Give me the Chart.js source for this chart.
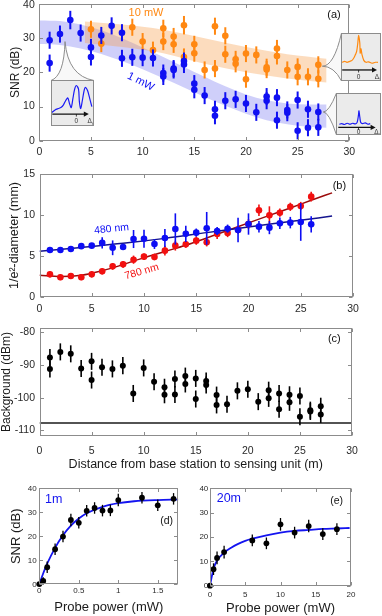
<!DOCTYPE html>
<html><head><meta charset="utf-8">
<script src="https://cdn.jsdelivr.net/npm/chart.js@4.4.1/dist/chart.umd.min.js"></script>
<style>
body{margin:0;background:#fff;}
#wrap{position:relative;width:382px;height:616px;overflow:hidden;background:#fff;}
canvas{position:absolute;}
</style></head><body>
<div id="wrap">
<canvas id="cA" width="382" height="185" style="left:0;top:-20px"></canvas>
<canvas id="cB" width="382" height="150" style="left:0;top:165px"></canvas>
<canvas id="cC" width="382" height="160" style="left:0;top:315px"></canvas>
<canvas id="cD" width="190" height="141" style="left:0;top:475px"></canvas>
<canvas id="cE" width="197" height="141" style="left:185px;top:475px"></canvas>
<canvas id="iL" width="10" height="10" style="left:0;top:0"></canvas>
<canvas id="iTR" width="10" height="10" style="left:0;top:0"></canvas>
<canvas id="iBR" width="10" height="10" style="left:0;top:0"></canvas>
</div>
<script>
// ---------------- data ----------------
// (a) SNR vs distance
const aTicksX = [0,5,10,15,20,25,30];
const aTicksY = [0,10,20,30,40];
const aBlueX = [1,1,2,3,4,5,5,6,7,8,8,9,10,11,12,12,13,13,14,14,15,15,16,17,17,18,19,20,21,22,22,23,23,24,24,25,25,26,26,27,27];
const aBlueY = [29.4,22.7,31.2,35.3,31.5,27.3,24.5,30.8,33.6,31.6,24.1,24.4,24.3,24.2,19.8,18.8,21.1,20.7,22.3,23.3,16.7,14.9,13.2,9.2,7.3,11.7,12.1,10.9,8.3,12.9,11.7,12.6,6.0,9.0,8.2,11.9,2.9,9.2,3.8,8.4,3.9];
const aBlueE = [2.5,2.5,2.5,2.7,2.5,2.5,2.5,2.5,2.5,2.5,2.5,2.5,2.5,2.5,2.5,2.5,2.5,2.5,2.5,2.5,2.5,2.5,2.5,2.5,2.5,2.5,2.5,2.5,2.5,2.5,2.5,2.5,2.5,2.5,2.5,2.5,2.5,2.5,2.5,2.5,2.5];
const aOrX = [5,6,9,10,11,12,12,13,13,14,14,15,15,16,17,17,18,18,19,19,20,20,21,22,22,23,23,24,25,25,26,27,27];
const aOrY = [32.6,28.4,33.2,29.0,26.5,32.9,29.0,30.5,28.2,33.8,24.5,28.2,25.6,20.7,33.5,21.1,30.7,25.3,23.8,22.5,25.5,18.0,25.1,21.5,20.8,27.0,24.8,20.7,21.6,18.7,18.7,22.2,18.1];
const aOrE = [2.5,2.5,2.5,2.5,2.5,2.5,2.5,2.5,2.5,2.7,2.5,2.5,2.5,2.5,2.5,2.5,2.5,2.5,2.5,2.5,2.5,2.5,2.5,2.5,2.5,2.5,2.5,2.5,2.5,2.5,2.5,2.5,2.5];
const bandBlueX  = [0,2,4,6,8,10,12,14,16,18,20,22,24,26,27.8];
const bandBlueHi = [35.2,35.0,34.0,32.3,30.0,27.3,24.5,21.6,18.7,15.9,13.5,11.8,10.9,10.6,10.6];
const bandBlueLo = [28.3,28.0,27.0,25.4,23.3,20.9,18.3,15.6,12.8,10.2,7.9,6.0,4.8,4.1,3.8];
const bandOrX  = [4.4,8,12,16,20,24,27.8];
const bandOrHi = [34.9,34.0,32.5,30.0,27.4,25.3,24.0];
const bandOrLo = [28.6,27.4,25.6,22.5,20.0,18.2,17.0];
// insets of (a): spectra in normalised inset units
const insLX = [0.016,0.094,0.17,0.23,0.29,0.34,0.39,0.43,0.47,0.51,0.55,0.59,0.64,0.66,0.69,0.73,0.77,0.80,0.85,0.90,0.95];
const insLY = [0.29,0.35,0.38,0.40,0.46,0.55,0.61,0.49,0.40,0.60,0.80,0.88,0.80,0.53,0.38,0.56,0.77,0.84,0.77,0.60,0.42];
const insTX = [0.025,0.09,0.15,0.22,0.275,0.32,0.36,0.39,0.42,0.44,0.47,0.48,0.50,0.525,0.57,0.625,0.69,0.775,0.86,0.925];
const insTY = [0.39,0.41,0.39,0.41,0.43,0.48,0.55,0.61,0.79,0.95,0.79,0.58,0.67,0.55,0.43,0.39,0.40,0.37,0.39,0.39];
const insBX = [0.074,0.13,0.19,0.25,0.31,0.37,0.43,0.47,0.50,0.51,0.53,0.55,0.59,0.65,0.71,0.76];
const insBY = [0.256,0.27,0.25,0.28,0.256,0.28,0.264,0.30,0.48,0.576,0.42,0.296,0.27,0.29,0.256,0.27];

// (b) beam diameter
const bTicksX = [0,5,10,15,20,25,30];
const bTicksY = [0,5,10,15];
const bX = [1,2,3,4,5,6,7,8,9,10,11,12,13,14,15,16,17,18,19,20,21,22,23,24,25,26];
const bBlueY = [5.73,5.73,5.85,6.2,6.26,6.6,6.0,6.1,7.07,7.1,6.46,7.2,8.3,7.7,7.85,8.37,8.05,8.33,8.17,8.9,8.58,8.46,8.98,9.07,9.15,8.86];
const bBlueE = [0.3,0.3,0.3,0.3,0.3,0.7,0.9,0.3,1.1,1.1,0.6,1.1,1.9,1.0,0.5,2.0,0.5,0.5,1.5,1.3,0.7,0.8,0.7,0.7,2.3,1.0];
const bRedY = [2.76,2.4,2.56,2.4,2.76,3.13,3.74,3.98,4.55,4.92,4.88,5.65,6.26,6.42,6.87,6.67,7.68,7.8,8.2,8.9,10.57,9.96,10.28,11.0,11.1,12.24];
const bRedE = [0.35,0.35,0.35,0.35,0.35,0.35,0.4,0.4,0.5,0.4,0.4,0.6,0.6,0.4,0.5,0.5,0.6,0.5,0.5,0.6,0.7,1.1,0.5,0.5,0.5,0.6];
const bBlueFitX = [0,4,8,12,16,20,24,28];
const bBlueFitY = [5.57,6.05,6.55,7.15,7.85,8.55,9.2,9.87];
const bRedFitX = [0,2,4,6,8,10,12,14,16,18,20,22,24,26,28];
const bRedFitY = [2.64,2.5,2.65,3.2,3.95,4.8,5.55,6.31,7.2,8.1,9.04,9.95,10.85,11.8,12.7];

// (c) background
const cTicksX = [0,5,10,15,20,25,30];
const cTicksY = [-110,-100,-90,-80];
const cX = [1,1,2,3,4,5,5,6,7,8,9,10,11,12,12,13,13,14,14,15,15,16,16,17,17,18,19,20,21,22,22,23,23,24,24,25,25,26,26,27,27];
const cY = [-87.7,-91.2,-86.0,-86.6,-91.1,-88.9,-94.6,-90.7,-91.2,-90.2,-98.7,-90.9,-95.1,-96.8,-99.1,-94.3,-99.0,-93.4,-95.8,-94.1,-100.4,-94.9,-96.1,-99.2,-102.2,-102.0,-97.9,-97.4,-101.2,-97.7,-100.2,-98.7,-103.5,-99.1,-101.4,-99.5,-105.8,-103.8,-104.2,-102.6,-105.1];
const cE = [2.6,2.6,2.6,2.6,2.6,2.6,2.6,2.6,2.6,2.6,2.6,2.6,2.6,2.6,2.6,2.6,2.6,2.6,2.6,2.6,2.6,2.6,2.6,2.6,2.6,2.6,2.6,2.6,2.6,2.6,2.6,2.6,2.6,2.6,2.6,2.6,2.6,2.6,2.6,2.6,2.6];
const cFloorX = [0,30];
const cFloorY = [-107.7,-107.7];

// (d) SNR vs probe power at 1 m
const dTicksX = [0,0.5,1,1.5];
const dTicksY = [0,10,20,30,40];
const dX = [0,0.05,0.1,0.2,0.3,0.4,0.5,0.6,0.7,0.8,0.9,1.0,1.3,1.5,1.7];
const dY = [0.1,1.4,7.1,14.6,19.9,26.8,25.6,30.6,31.8,30.7,30.8,35.1,36.1,32.9,35.6];
const dE = [0.6,1.5,2.4,2.4,2.4,2.6,2.4,2.4,2.4,2.4,2.4,2.6,2.4,2.4,2.4];
const dFitX = [0,0.05,0.1,0.2,0.3,0.4,0.5,0.6,0.8,1.0,1.2,1.5,1.76];
const dFitY = [0,4.6,8.6,15.2,20.4,24.4,27.4,29.6,32.3,33.8,34.6,35.1,35.3];

// (e) SNR vs probe power at 20 m
const eTicksX = [0,5,10,15,20];
const eTicksY = [0,10,20,30,40];
const eX = [0,0.5,1,2,6,8,10,12,14,16,18];
const eY = [0,6.8,11.4,13.8,18.6,17.4,25.2,21.8,24.5,21.2,23.2];
const eE = [0.6,2.4,2.6,2.6,2.4,2.4,2.6,2.4,2.6,2.4,2.4];
const eFitX = [0,0.5,1,2,3,4,5,6,8,10,12,14,16,18,19.8];
const eFitY = [0,7,10.3,13.6,15.6,17.2,18.4,19.3,20.7,21.8,22.5,22.9,23.3,23.5,23.7];

// ---------------- helpers ----------------
const FONT = '"Liberation Sans", Arial, Helvetica, sans-serif';
Chart.defaults.font.family = FONT;
Chart.defaults.color = '#2a2a2a';
Chart.defaults.animation = false;
Chart.defaults.responsive = false;
Chart.defaults.devicePixelRatio = 1;
Chart.defaults.plugins.legend.display = false;
Chart.defaults.plugins.tooltip.enabled = false;

const pts = (xs, ys) => xs.map((x, i) => ({x: x, y: ys[i]}));

const errorBars = {
  id: 'errorBars',
  beforeDatasetDraw(chart, args) {
    const ds = chart.data.datasets[args.index];
    if (!ds.errs) return;
    const sx = chart.scales.x, sy = chart.scales.y, ctx = chart.ctx;
    ctx.save();
    ctx.strokeStyle = ds.errColor;
    ctx.lineWidth = ds.errWidth || 1.5;
    ds.data.forEach((p, i) => {
      const e = ds.errs[i];
      const px = sx.getPixelForValue(p.x);
      ctx.beginPath();
      ctx.moveTo(px, sy.getPixelForValue(p.y - e));
      ctx.lineTo(px, sy.getPixelForValue(p.y + e));
      ctx.stroke();
    });
    ctx.restore();
  }
};

const frame = {
  id: 'frame',
  afterDatasetsDraw(chart) {
    const ctx = chart.ctx, a = chart.chartArea, sx = chart.scales.x, sy = chart.scales.y;
    ctx.save();
    ctx.strokeStyle = '#8c8c8c';
    ctx.lineWidth = 1;
    const l = Math.round(a.left) + 0.5, t = Math.round(a.top) + 0.5;
    const r = Math.round(a.right) - 0.5, b = Math.round(a.bottom) - 0.5;
    ctx.strokeRect(l, t, r - l, b - t);
    const L = 3.5;
    ctx.beginPath();
    sx.ticks.forEach(tk => {
      const p = Math.round(sx.getPixelForValue(tk.value)) + 0.5;
      ctx.moveTo(p, b); ctx.lineTo(p, b - L);
      ctx.moveTo(p, t); ctx.lineTo(p, t + L);
    });
    sy.ticks.forEach(tk => {
      const p = Math.round(sy.getPixelForValue(tk.value)) + 0.5;
      ctx.moveTo(l, p); ctx.lineTo(l + L, p);
      ctx.moveTo(r, p); ctx.lineTo(r - L, p);
    });
    ctx.stroke();
    ctx.restore();
  }
};

// draws the y scale's own tick labels for panel (a); the top label is kept fully inside the page
function yLabels(size, pad) {
  return {
    id: 'yLabels',
    afterDraw(chart) {
      const ctx = chart.ctx, sy = chart.scales.y, a = chart.chartArea;
      ctx.save();
      ctx.font = size + 'px ' + FONT;
      ctx.fillStyle = '#2a2a2a';
      ctx.textAlign = 'right';
      ctx.textBaseline = 'middle';
      sy.ticks.forEach(tk => {
        const y = Math.max(sy.getPixelForValue(tk.value), a.top + 1.5);
        ctx.fillText(String(tk.value), a.left - pad, y);
      });
      ctx.restore();
    }
  };
}

function notes(items) {
  return {
    id: 'notes',
    afterDraw(chart) {
      const ctx = chart.ctx, sx = chart.scales.x, sy = chart.scales.y;
      items.forEach(n => {
        ctx.save();
        ctx.translate(sx.getPixelForValue(n.x), sy.getPixelForValue(n.y));
        if (n.rot) ctx.rotate(n.rot * Math.PI / 180);
        ctx.font = (n.size || 11) + 'px ' + FONT;
        ctx.fillStyle = n.color || '#111';
        ctx.textAlign = n.align || 'center';
        ctx.textBaseline = 'middle';
        ctx.fillText(n.text, 0, 0);
        ctx.restore();
      });
    }
  };
}

function axisX(o) {
  return {
    type: 'linear', min: o.min, max: o.max,
    grid: {display: false, drawTicks: false}, border: {display: false},
    ticks: {font: {size: o.size}, padding: o.pad, color: '#2a2a2a', maxRotation: 0, autoSkip: false,
            callback: v => String(v)},
    afterBuildTicks: s => { s.ticks = o.ticks.map(v => ({value: v})); },
    afterFit: s => { s.height = o.h; s.paddingLeft = 0; s.paddingRight = 0; },
    title: o.title ? {display: true, text: o.title, font: {size: o.tsize}, color: '#1a1a1a',
                      padding: {top: 0, bottom: o.tpad}} : {display: false}
  };
}
function axisY(o) {
  return {
    type: 'linear', min: o.min, max: o.max,
    grid: {display: false, drawTicks: false}, border: {display: false},
    ticks: {display: o.hideLabels ? false : true, font: {size: o.size}, padding: o.pad, color: '#2a2a2a', autoSkip: false,
            callback: v => String(v)},
    afterBuildTicks: s => { s.ticks = o.ticks.map(v => ({value: v})); },
    afterFit: s => { s.width = o.w; s.paddingTop = 0; s.paddingBottom = 0; },
    title: o.title ? {display: true, text: o.title, font: {size: o.tsize, lineHeight: 1}, color: '#1a1a1a',
                      padding: {top: o.tpad, bottom: 0}} : {display: false}
  };
}
function dots(xs, ys, es, color, r, ew, order, clip) {
  const d = {data: pts(xs, ys), errs: es, errColor: color, errWidth: ew, showLine: false,
          pointRadius: r, pointBackgroundColor: color, pointBorderWidth: 0, pointBorderColor: color,
          order: order};
  if (clip !== undefined) d.clip = clip;
  return d;
}
function curve(xs, ys, color, w, order) {
  return {data: pts(xs, ys), showLine: true, borderColor: color, borderWidth: w, pointRadius: 0,
          cubicInterpolationMode: 'monotone', fill: false, order: order};
}
function band(xs, ys, fillColor, order, fill) {
  return {data: pts(xs, ys), showLine: true, borderColor: 'rgba(0,0,0,0)', borderWidth: 0, pointRadius: 0,
          cubicInterpolationMode: 'monotone', fill: fill, backgroundColor: fillColor, order: order};
}

// ---------------- (a) ----------------
const A_TOP = -20; // page offset of canvas A
const insetDefs = [
  {id: 'iL', box: [1.13, 5.26, 4.30, 17.76], apex: [2.49, 29.0], side: 'top',
   xs: insLX, ys: insLY, color: '#1a1af5',
   ar: {y: 0.26, x0: 0.03, x1: 0.88, zero: 0.59, ly: 0.1, dx: 0.9}},
  {id: 'iTR', box: [29.17, 33.04, 17.38, 31.52], apex: [27.39, 21.8], side: 'left',
   xs: insTX, ys: insTY, color: '#ff8a10',
   ar: {y: 0.23, x0: 0.03, x1: 0.9, zero: 0.44, ly: 0.08, dx: 0.9}},
  {id: 'iBR', box: [28.68, 33.04, 1.76, 13.96], apex: [27.48, 8.4], side: 'left',
   xs: insBX, ys: insBY, color: '#1a1af5',
   ar: {y: 0.18, x0: 0.05, x1: 0.88, zero: 0.5, ly: 0.06, dx: 0.9}}
];

const callouts = {
  id: 'callouts',
  afterDraw(c) {
    const ctx = c.ctx, sx = c.scales.x, sy = c.scales.y;
    ctx.save();
    ctx.strokeStyle = '#8c8c8c';
    ctx.lineWidth = 1;
    insetDefs.forEach(ins => {
      const L = Math.round(sx.getPixelForValue(ins.box[0])), R = Math.round(sx.getPixelForValue(ins.box[1]));
      const T = Math.round(sy.getPixelForValue(ins.box[3])), B = Math.round(sy.getPixelForValue(ins.box[2]));
      const ax = sx.getPixelForValue(ins.apex[0]), ay = sy.getPixelForValue(ins.apex[1]);
      ctx.beginPath();
      if (ins.side === 'top') {
        ctx.moveTo(L, T + 0.5);
        ctx.quadraticCurveTo(ax - 1, T - 4, ax, ay);
        ctx.quadraticCurveTo(ax + 3, T - 4, R, T + 0.5);
      } else {
        ctx.moveTo(L + 0.5, T);
        ctx.quadraticCurveTo(L - 7, ay, ax, ay);
        ctx.quadraticCurveTo(L - 7, ay, L + 0.5, B);
      }
      ctx.fillStyle = 'rgba(228,228,228,0.25)';
      ctx.fill();
      ctx.stroke();
    });
    ctx.restore();
  }
};

const chartA = new Chart(document.getElementById('cA'), {
  type: 'line',
  data: {datasets: [
    dots(aBlueX, aBlueY, aBlueE, '#1010f2', 3.3, 2, 0),
    dots(aOrX, aOrY, aOrE, '#ff8812', 3.3, 2, 1),
    band(bandOrX, bandOrHi, 'rgba(247,158,75,0.36)', 5, '+1'),
    band(bandOrX, bandOrLo, 'rgba(0,0,0,0)', 5, false),
    band(bandBlueX, bandBlueHi, 'rgba(95,95,240,0.30)', 6, '+1'),
    band(bandBlueX, bandBlueLo, 'rgba(0,0,0,0)', 6, false)
  ]},
  options: {
    layout: {padding: {left: 0, right: 32.7, top: 24, bottom: 0}},
    scales: {
      x: axisX({min: 0, max: 30, ticks: aTicksX, h: 24.3, size: 10.5, pad: 4.7}),
      y: axisY({min: 0, max: 40, ticks: aTicksY, w: 39.3, size: 10.5, pad: 4.5, hideLabels: true,
                title: 'SNR (dB)', tsize: 12, tpad: 10})
    }
  },
  plugins: [errorBars, frame, callouts, yLabels(10.5, 4.5), notes([
    {text: '(a)', x: 28.52, y: 36.78, size: 11},
    {text: '10 mW', x: 10.33, y: 37.45, size: 11, color: '#ff8812'},
    {text: '1 mW', x: 9.81, y: 17.26, size: 11, color: '#1010f2', rot: 27}
  ])]
});

function insetDeco(ar) {
  return {
    id: 'insetDeco',
    beforeDraw(c) {
      c.ctx.save(); c.ctx.fillStyle = '#ebebeb'; c.ctx.fillRect(0, 0, c.width, c.height); c.ctx.restore();
    },
    afterDraw(c) {
      const ctx = c.ctx, sx = c.scales.x, sy = c.scales.y;
      const y = sy.getPixelForValue(ar.y), x0 = sx.getPixelForValue(ar.x0), x1 = sx.getPixelForValue(ar.x1);
      const z = sx.getPixelForValue(ar.zero);
      ctx.save();
      ctx.strokeStyle = '#111'; ctx.fillStyle = '#111'; ctx.lineWidth = 1.3;
      ctx.beginPath(); ctx.moveTo(x0, y); ctx.lineTo(x1 - 3, y); ctx.stroke();
      ctx.beginPath(); ctx.moveTo(x1, y); ctx.lineTo(x1 - 5, y - 2.6); ctx.lineTo(x1 - 5, y + 2.6); ctx.closePath(); ctx.fill();
      ctx.lineWidth = 0.8; ctx.beginPath(); ctx.moveTo(z, y); ctx.lineTo(z, y + 2.5); ctx.stroke();
      const ly = sy.getPixelForValue(ar.ly), dx = sx.getPixelForValue(ar.dx);
      ctx.fillStyle = '#333'; ctx.textAlign = 'center'; ctx.textBaseline = 'middle';
      ctx.font = '6.5px ' + FONT;
      ctx.fillText('0', z, ly);
      ctx.fillText('Δ', dx, ly);
      ctx.font = '4.5px ' + FONT;
      ctx.fillText('c', dx + 3.6, ly + 2);
      ctx.strokeStyle = '#8c8c8c'; ctx.lineWidth = 1;
      ctx.strokeRect(0.5, 0.5, c.width - 1, c.height - 1);
      ctx.restore();
    }
  };
}

insetDefs.forEach(ins => {
  const sx = chartA.scales.x, sy = chartA.scales.y;
  const l = Math.round(sx.getPixelForValue(ins.box[0])), r = Math.round(sx.getPixelForValue(ins.box[1]));
  const t = Math.round(sy.getPixelForValue(ins.box[3])), b = Math.round(sy.getPixelForValue(ins.box[2]));
  const cv = document.getElementById(ins.id);
  cv.width = r - l; cv.height = b - t;
  cv.style.left = l + 'px'; cv.style.top = (t + A_TOP) + 'px';
  new Chart(cv, {
    type: 'line',
    data: {datasets: [{data: pts(ins.xs, ins.ys), borderColor: ins.color, borderWidth: 1.2, pointRadius: 0,
                       tension: 0.3, fill: false}]},
    options: {
      layout: {padding: 0},
      scales: {x: {type: 'linear', display: false, min: 0, max: 1}, y: {display: false, min: 0, max: 1}}
    },
    plugins: [insetDeco(ins.ar)]
  });
});

// ---------------- (b) ----------------
new Chart(document.getElementById('cB'), {
  type: 'line',
  data: {datasets: [
    dots(bX, bBlueY, bBlueE, '#0d0df4', 3.3, 1.6, 0),
    dots(bX, bRedY, bRedE, '#f21010', 3.3, 1.6, 1),
    curve(bBlueFitX, bBlueFitY, '#14148e', 1.5, 3),
    curve(bRedFitX, bRedFitY, '#9c0c0c', 1.5, 3)
  ]},
  options: {
    layout: {padding: {left: 0, right: 29, top: 9, bottom: 0}},
    scales: {
      x: axisX({min: 0, max: 30, ticks: bTicksX, h: 18, size: 10.5, pad: 5.7}),
      y: axisY({min: 0, max: 15, ticks: bTicksY, w: 39.5, size: 10.5, pad: 4.5,
                title: '1/e²-diameter (mm)', tsize: 12.5, tpad: 8})
    }
  },
  plugins: [errorBars, frame, notes([
    {text: '(b)', x: 28.7, y: 13.54, size: 11},
    {text: '480 nm', x: 6.9, y: 8.29, size: 10.5, color: '#0d0df4', rot: -6},
    {text: '780 nm', x: 9.78, y: 3.09, size: 10.5, color: '#f21010', rot: -16}
  ])]
});

// ---------------- (c) ----------------
new Chart(document.getElementById('cC'), {
  type: 'line',
  data: {datasets: [
    dots(cX, cY, cE, '#000000', 3, 1.6, 0),
    curve(cFloorX, cFloorY, '#1a1a1a', 1.6, 2)
  ]},
  options: {
    layout: {padding: {left: 0, right: 30, top: 13.3, bottom: 0}},
    scales: {
      x: axisX({min: 0, max: 30, ticks: cTicksX, h: 39.3, size: 10.5, pad: 8.7,
                title: 'Distance from base station to sensing unit (m)', tsize: 12.5, tpad: 2.5}),
      y: axisY({min: -111.6, max: -78.8, ticks: cTicksY, w: 39.5, size: 10.5, pad: 4.5,
                title: 'Background (dBm)', tsize: 12, tpad: 0.5})
    }
  },
  plugins: [errorBars, frame, notes([
    {text: '(c)', x: 28.3, y: -82.1, size: 11}
  ])]
});

// ---------------- (d) ----------------
new Chart(document.getElementById('cD'), {
  type: 'line',
  data: {datasets: [
    dots(dX, dY, dE, '#000000', 2.9, 1.3, 0, false),
    curve(dFitX, dFitY, '#1414f0', 1.8, 2)
  ]},
  options: {
    layout: {padding: {left: 0, right: 11.7, top: 13.3, bottom: 0}},
    scales: {
      x: axisX({min: 0, max: 1.76, ticks: dTicksX, h: 31.7, size: 8, pad: 1.6,
                title: 'Probe power (mW)', tsize: 13, tpad: 0.5}),
      y: axisY({min: 0, max: 40, ticks: dTicksY, w: 39.3, size: 8, pad: 2.6,
                title: 'SNR (dB)', tsize: 13, tpad: 10})
    }
  },
  plugins: [errorBars, frame, notes([
    {text: '1m', x: 0.072, y: 35.3, size: 12.5, color: '#1414f0', align: 'left'},
    {text: '(d)', x: 1.613, y: 26.4, size: 10.5}
  ])]
});

// ---------------- (e) ----------------
new Chart(document.getElementById('cE'), {
  type: 'line',
  data: {datasets: [
    dots(eX, eY, eE, '#000000', 2.9, 1.3, 0, false),
    curve(eFitX, eFitY, '#1414f0', 1.8, 2)
  ]},
  options: {
    layout: {padding: {left: 0, right: 31, top: 13.3, bottom: 0}},
    scales: {
      x: axisX({min: 0, max: 20, ticks: eTicksX, h: 30.3, size: 8, pad: 4.5,
                title: 'Probe power (mW)', tsize: 13, tpad: 0}),
      y: axisY({min: 0, max: 40, ticks: eTicksY, w: 25, size: 8, pad: 1.7})
    }
  },
  plugins: [errorBars, frame, notes([
    {text: '20m', x: 0.95, y: 35.7, size: 12.5, color: '#1414f0', align: 'left'},
    {text: '(e)', x: 17.97, y: 34.8, size: 10.5}
  ])]
});
</script>
</body></html>
